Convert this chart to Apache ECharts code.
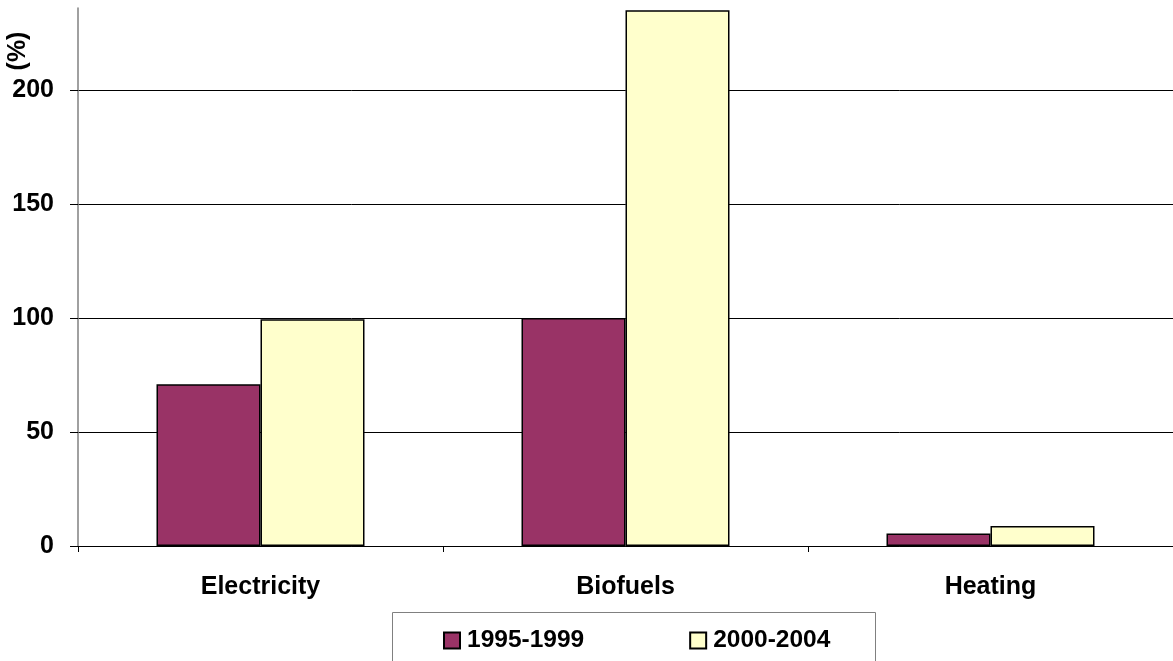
<!DOCTYPE html>
<html><head><meta charset="utf-8">
<script src="https://cdn.jsdelivr.net/npm/echarts@6/dist/echarts.min.js"></script>
<style>html,body{margin:0;padding:0;background:#fff}#c{width:1173px;height:661px}</style>
</head><body><div id="c"></div>
<script>
var categories = ["Electricity", "Biofuels", "Heating"];
var series1995 = [71, 100, 5.5];
var series2000 = [99.5, 235, 8.8];
var seriesNames = ["1995-1999", "2000-2004"];
var yTicks = [0, 50, 100, 150, 200];
var yTitle = "(%)";

var chart = echarts.init(document.getElementById('c'));
var font = 'Liberation Sans, Arial, sans-serif';
chart.setOption({
  animation: false,
  grid: {left: 78, top: 8, right: 0, bottom: 115, containLabel: false},
  xAxis: {
    type: 'category', data: categories,
    axisLine: {lineStyle: {color: '#000', width: 1}},
    axisTick: {show: true, length: 6, lineStyle: {color: '#000'}},
    axisLabel: {color: '#000', fontFamily: font, fontWeight: 'bold', fontSize: 25, margin: 29}
  },
  yAxis: {
    type: 'value', min: 0, max: 236, interval: 50,
    axisLine: {show: true, lineStyle: {color: '#808080', width: 1.5}},
    axisTick: {show: true, inside: false, length: 8, lineStyle: {color: '#000'}},
    axisLabel: {color: '#000', fontFamily: font, fontWeight: 'bold', fontSize: 25, margin: 24, showMaxLabel: false,
      formatter: function (v) { return yTicks.indexOf(v) >= 0 ? String(v) : ''; }},
    splitLine: {show: true, showMaxLine: false, lineStyle: {color: '#000', width: 1}}
  },
  legend: {
    data: seriesNames, left: 443, top: 628, padding: 0, itemWidth: 16, itemHeight: 16, itemGap: 105,
    textStyle: {color: '#000', fontFamily: font, fontWeight: 'bold', fontSize: 24.5, padding: [0, 0, 0, 2]},
    icon: 'rect'
  },
  graphic: [
    {type: 'rect', shape: {x: 392.5, y: 612.5, width: 483, height: 60}, style: {fill: 'none', stroke: '#808080', lineWidth: 1}, z: 0},
    {type: 'text', x: 18, y: 51, rotation: Math.PI / 2, style: {text: yTitle, fill: '#000', font: 'bold 25px ' + font, align: 'center', verticalAlign: 'middle'}}
  ],
  series: [
    {name: seriesNames[0], type: 'bar', data: series1995, barWidth: 104, barGap: '0%',
      itemStyle: {color: '#993366', borderColor: '#000', borderWidth: 1.5}},
    {name: seriesNames[1], type: 'bar', data: series2000, barWidth: 104, barGap: '0%',
      itemStyle: {color: '#FFFFCC', borderColor: '#000', borderWidth: 1.5}}
  ]
});
</script></body></html>
